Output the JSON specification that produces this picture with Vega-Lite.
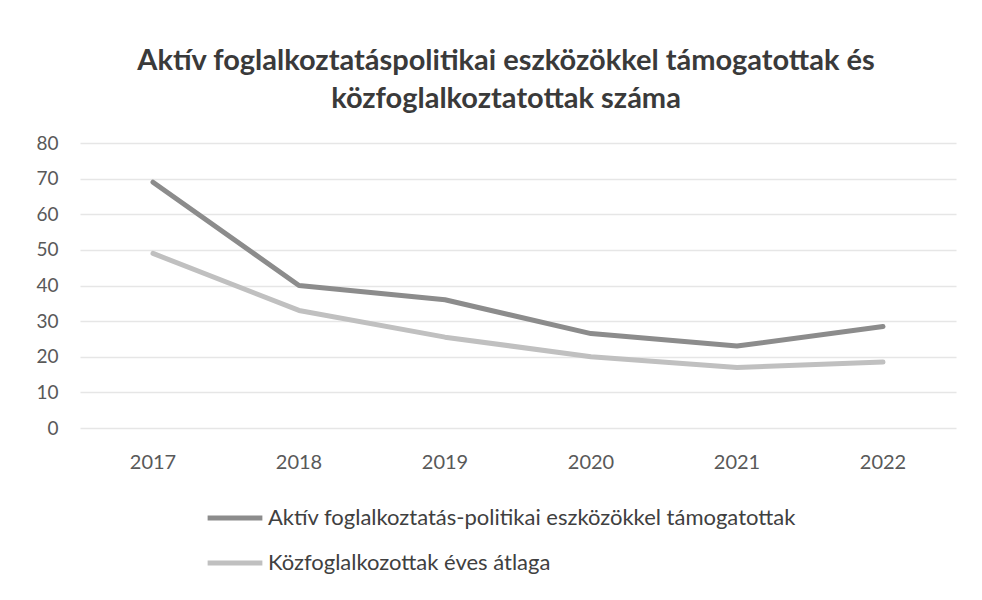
{
  "$schema": "https://vega.github.io/schema/vega-lite/v6.json",
  "autosize": "none",
  "width": 876,
  "height": 285,
  "padding": {"left": 80, "top": 143, "right": 26, "bottom": 172},
  "background": "white",
  "title": {
    "text": ["Aktív foglalkoztatáspolitikai eszközökkel támogatottak és", "közfoglalkoztatottak száma"],
    "font": "Lato",
    "fontSize": 29,
    "fontWeight": "bold",
    "color": "#3a3a3a",
    "lineHeight": 38,
    "anchor": "middle",
    "dx": -12,
    "offset": 20
  },
  "data": {
    "values": [
      {"ev": "2017", "sorozat": "Aktív foglalkoztatás-politikai eszközökkel támogatottak", "ertek": 69},
      {"ev": "2018", "sorozat": "Aktív foglalkoztatás-politikai eszközökkel támogatottak", "ertek": 40},
      {"ev": "2019", "sorozat": "Aktív foglalkoztatás-politikai eszközökkel támogatottak", "ertek": 36},
      {"ev": "2020", "sorozat": "Aktív foglalkoztatás-politikai eszközökkel támogatottak", "ertek": 26.5},
      {"ev": "2021", "sorozat": "Aktív foglalkoztatás-politikai eszközökkel támogatottak", "ertek": 23},
      {"ev": "2022", "sorozat": "Aktív foglalkoztatás-politikai eszközökkel támogatottak", "ertek": 28.5},
      {"ev": "2017", "sorozat": "Közfoglalkozottak éves átlaga", "ertek": 49},
      {"ev": "2018", "sorozat": "Közfoglalkozottak éves átlaga", "ertek": 33},
      {"ev": "2019", "sorozat": "Közfoglalkozottak éves átlaga", "ertek": 25.5},
      {"ev": "2020", "sorozat": "Közfoglalkozottak éves átlaga", "ertek": 20},
      {"ev": "2021", "sorozat": "Közfoglalkozottak éves átlaga", "ertek": 17},
      {"ev": "2022", "sorozat": "Közfoglalkozottak éves átlaga", "ertek": 18.5}
    ]
  },
  "mark": {"type": "line", "strokeWidth": 5, "strokeCap": "round", "strokeJoin": "round"},
  "encoding": {
    "x": {
      "field": "ev",
      "type": "ordinal",
      "scale": {"type": "band", "paddingInner": 0, "paddingOuter": 0},
      "axis": {
        "title": null,
        "labelAngle": 0,
        "domain": false,
        "ticks": false,
        "labelFont": "Lato",
        "labelFontSize": 20,
        "labelColor": "#595959",
        "labelPadding": 24
      }
    },
    "y": {
      "field": "ertek",
      "type": "quantitative",
      "scale": {"domain": [0, 80], "nice": false},
      "axis": {
        "title": null,
        "values": [0, 10, 20, 30, 40, 50, 60, 70, 80],
        "domain": false,
        "ticks": false,
        "labelFont": "Lato",
        "labelFontSize": 19,
        "labelColor": "#595959",
        "labelPadding": 22,
        "gridColor": "#e6e6e6",
        "gridWidth": 1.5
      }
    },
    "color": {
      "field": "sorozat",
      "type": "nominal",
      "scale": {
        "domain": ["Aktív foglalkoztatás-politikai eszközökkel támogatottak", "Közfoglalkozottak éves átlaga"],
        "range": ["#8c8c8c", "#c0c0c0"]
      },
      "legend": {
        "title": null,
        "orient": "none",
        "legendX": 125,
        "legendY": 345,
        "direction": "vertical",
        "symbolType": "stroke",
        "symbolSize": 3000,
        "symbolStrokeWidth": 5,
        "rowPadding": 4,
        "labelOffset": 3,
        "labelFont": "Lato",
        "labelFontSize": 22,
        "labelColor": "#404040",
        "labelLimit": 700
      }
    }
  },
  "config": {"view": {"stroke": null}}
}
